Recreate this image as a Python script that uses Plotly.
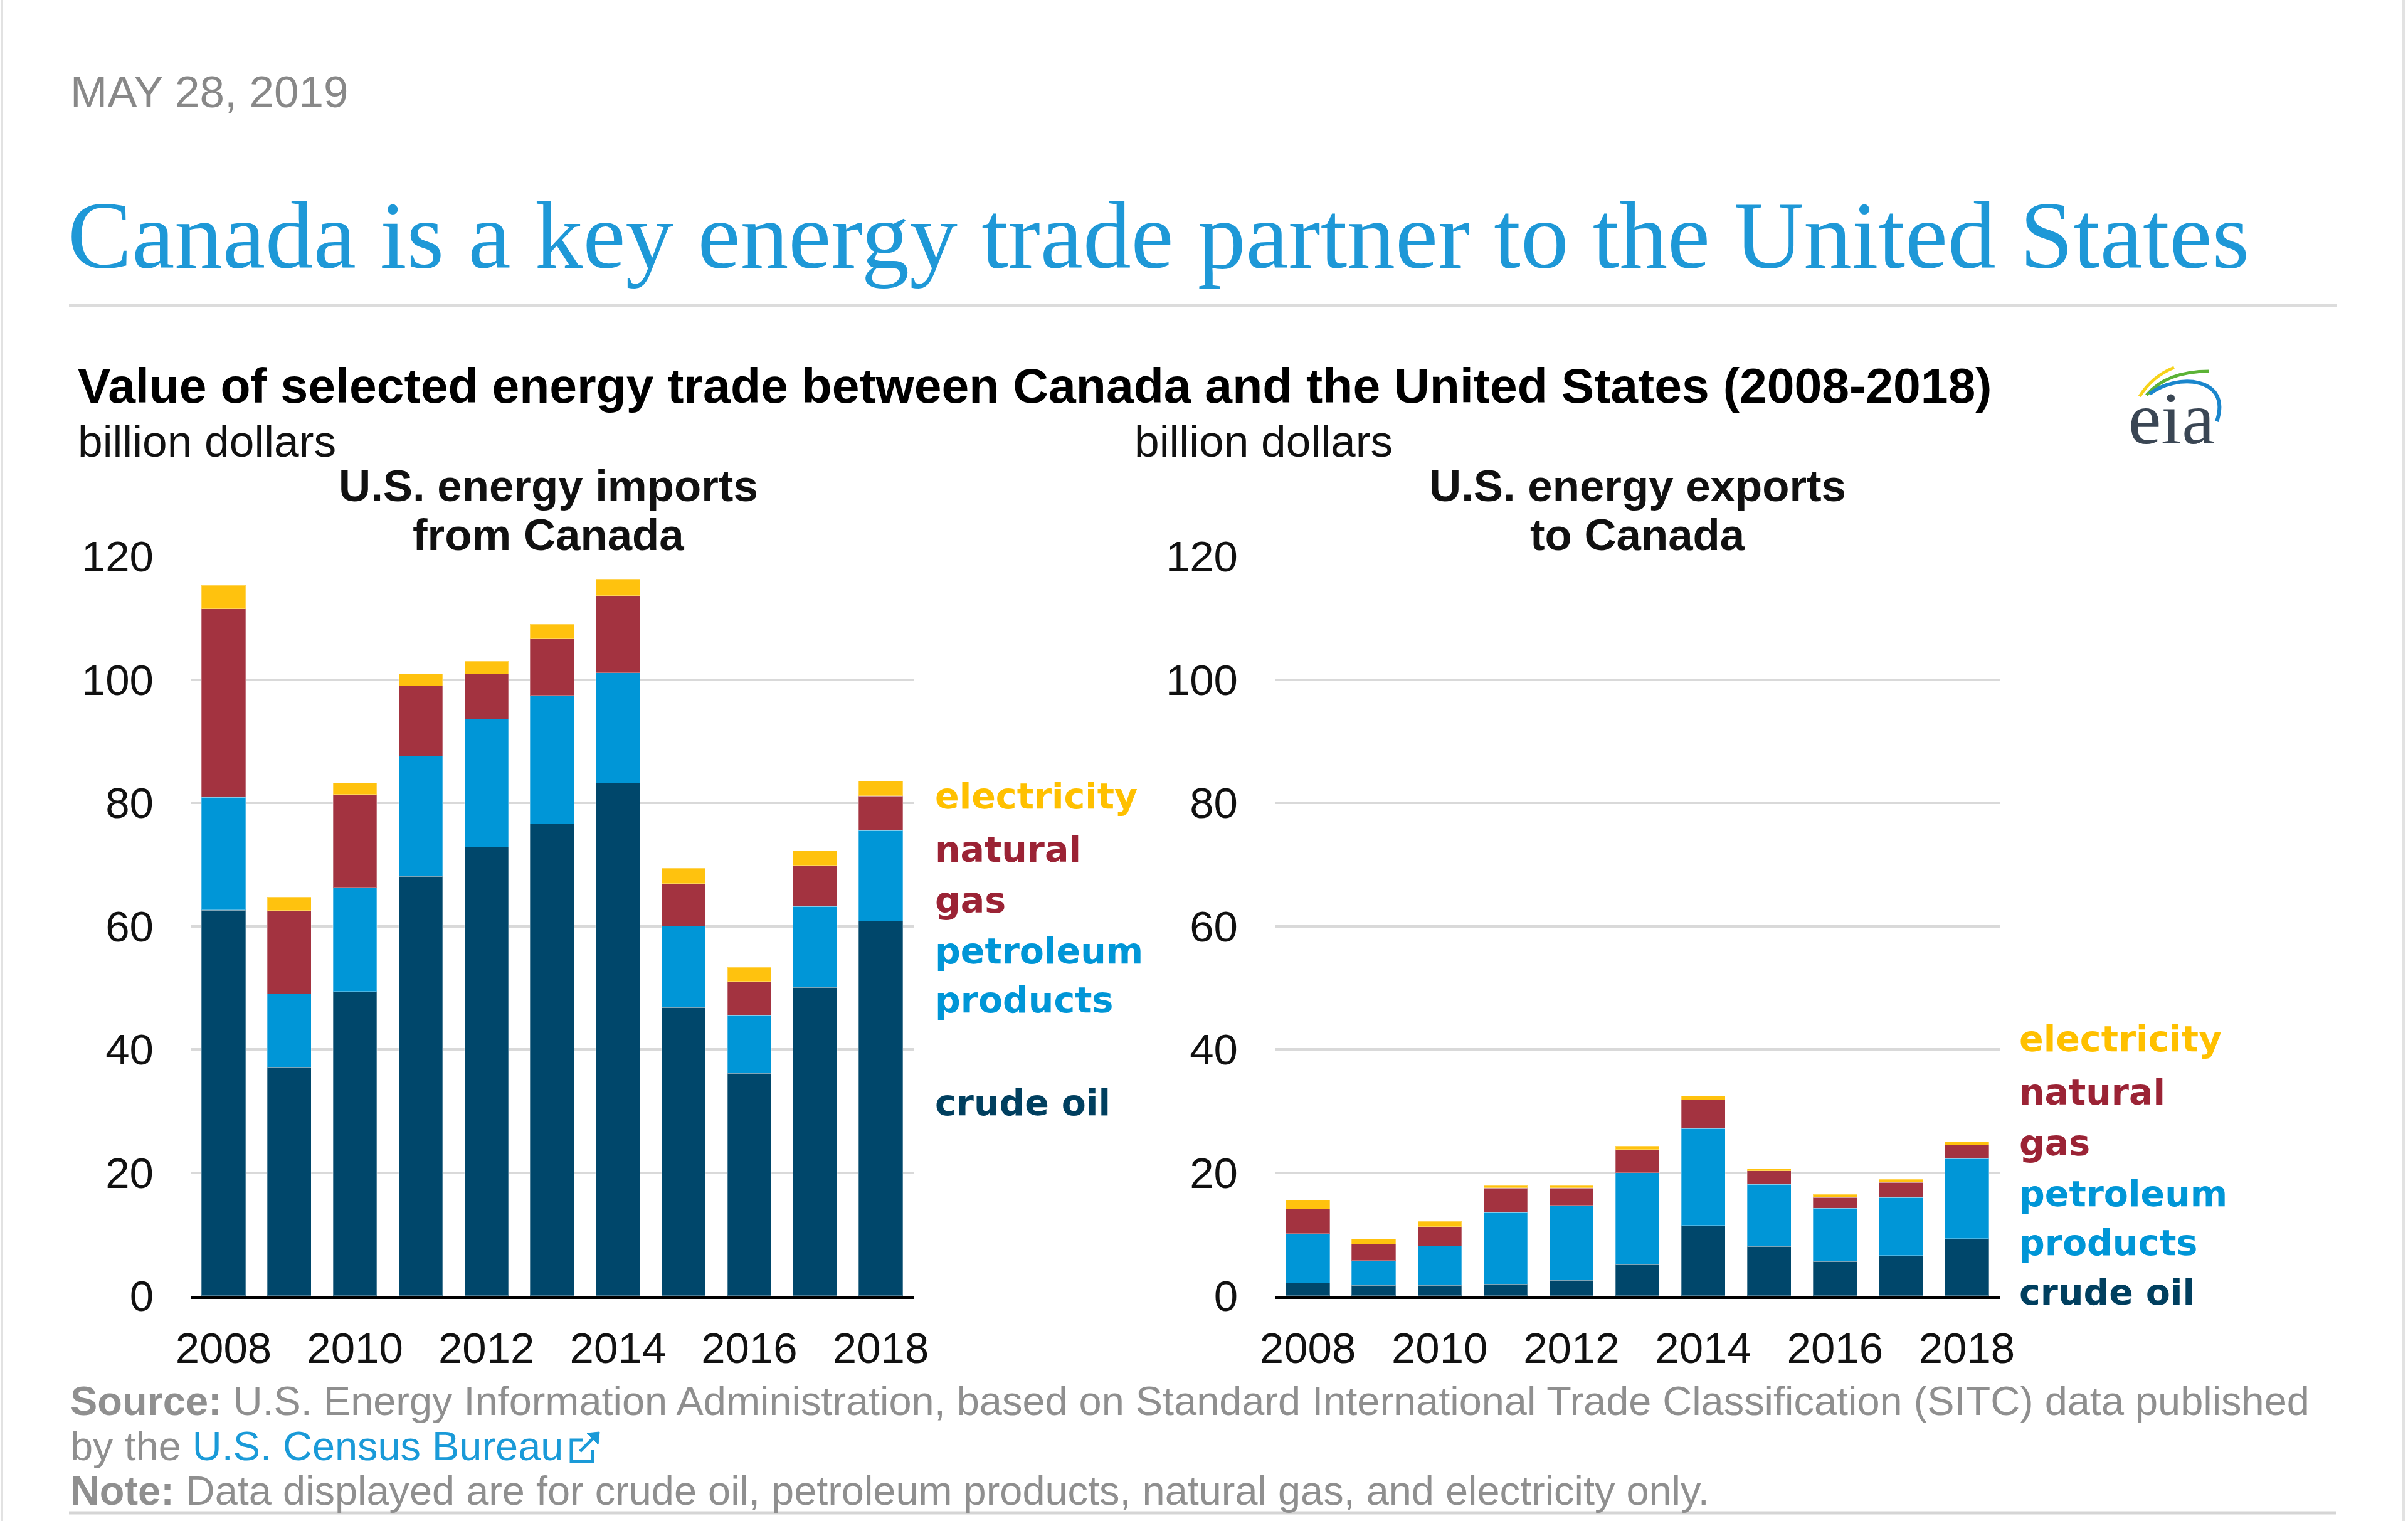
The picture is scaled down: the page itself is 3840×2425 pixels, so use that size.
import plotly.graph_objects as go

W, H = 3840, 2425

years = [2008, 2009, 2010, 2011, 2012, 2013, 2014, 2015, 2016, 2017, 2018]

imp_crude = [62.6, 37.1, 49.4, 68.1, 72.8, 76.6, 83.2, 46.8, 36.1, 50.1, 60.8]
imp_petroleum = [18.3, 11.9, 16.9, 19.5, 20.8, 20.8, 17.9, 13.2, 9.4, 13.1, 14.7]
imp_gas = [30.6, 13.5, 15.0, 11.4, 7.3, 9.3, 12.5, 6.9, 5.5, 6.6, 5.6]
imp_elec = [3.8, 2.2, 2.0, 2.0, 2.1, 2.3, 2.7, 2.5, 2.3, 2.4, 2.5]

exp_crude = [2.1, 1.7, 1.7, 1.9, 2.5, 5.1, 11.4, 8.0, 5.6, 6.5, 9.3]
exp_petroleum = [8.0, 4.0, 6.4, 11.6, 12.2, 14.9, 15.8, 10.1, 8.6, 9.5, 13.0]
exp_gas = [4.0, 2.7, 3.1, 4.0, 2.8, 3.7, 4.6, 2.2, 1.8, 2.4, 2.2]
exp_elec = [1.4, 0.9, 0.9, 0.4, 0.4, 0.6, 0.7, 0.4, 0.5, 0.5, 0.5]

y_ticks = [0, 20, 40, 60, 80, 100, 120]
x_ticks = [2008, 2010, 2012, 2014, 2016, 2018]

series_names = ["crude oil", "petroleum products", "natural gas", "electricity"]
bar_colors = ["#00476b", "#0096d7", "#a33340", "#ffc20e"]
label_colors = {"electricity": "#ffc000", "gas": "#9b2335",
                "pet": "#0096d7", "crude": "#003f5f"}

SANS = "Liberation Sans, Arial, sans-serif"
SERIF = "Liberation Serif, Times New Roman, serif"
LEG = "DejaVu Sans, sans-serif"


def px(x):
    return x / W


def py(y):
    return 1 - y / H


fig = go.Figure()

imports = [imp_crude, imp_petroleum, imp_gas, imp_elec]
exports = [exp_crude, exp_petroleum, exp_gas, exp_elec]
for vals, name, col in zip(imports, series_names, bar_colors):
    fig.add_trace(go.Bar(x=years, y=vals, name=name, marker_color=col,
                         marker_line_width=1.5, marker_line_color="rgba(255,255,255,0.3)",
                         width=0.67, xaxis="x", yaxis="y"))
for vals, name, col in zip(exports, series_names, bar_colors):
    fig.add_trace(go.Bar(x=years, y=vals, name=name, marker_color=col,
                         marker_line_width=1.5, marker_line_color="rgba(255,255,255,0.3)",
                         width=0.67, xaxis="x2", yaxis="y2"))

ydom = [py(2066), py(887)]
axis_font = dict(family=SANS, size=69, color="#111111")

xcommon = dict(range=[2007.5, 2018.5], tickvals=x_ticks, ticktext=[str(v) for v in x_ticks],
               showline=True, linecolor="#000000", linewidth=5, showgrid=False,
               zeroline=False, ticks="", tickfont=axis_font, ticklabelstandoff=19,
               fixedrange=True, automargin=False)
ycommon = dict(range=[0, 120.0001], tickvals=y_ticks, showgrid=True, gridcolor="#d9d9d9",
               gridwidth=4, zeroline=False, showline=False, ticks="", tickfont=axis_font,
               ticklabelstandoff=58, fixedrange=True, automargin=False)

fig.update_layout(
    width=W, height=H, autosize=False,
    margin=dict(l=0, r=0, t=0, b=0, pad=0, autoexpand=False),
    paper_bgcolor="white", plot_bgcolor="white",
    barmode="stack", bargap=0.33, showlegend=False,
    xaxis=dict(domain=[px(304), px(1457)], anchor="y", **xcommon),
    yaxis=dict(domain=ydom, anchor="x", **ycommon),
    xaxis2=dict(domain=[px(2033), px(3189)], anchor="y2", **xcommon),
    yaxis2=dict(domain=ydom, anchor="x2", **ycommon),
)

ann = []


def text(x, y, t, size, color, family=SANS, xanchor="left"):
    ann.append(dict(x=px(x), y=py(y), xref="paper", yref="paper", text=t,
                    showarrow=False, xanchor=xanchor, yanchor="middle",
                    font=dict(family=family, size=size, color=color)))


text(110, 147, "MAY 28, 2019", 71, "#888888")
text(106, 375, "Canada is a key energy trade partner to the United States", 153.3, "#1e98d7", SERIF)
text(122, 615, "<b>Value of selected energy trade between Canada and the United States (2008-2018)</b>", 78.7, "#000000")
text(122, 703, "billion dollars", 71.3, "#111111")
text(1807, 703, "billion dollars", 71.3, "#111111")
text(874, 774, "<b>U.S. energy imports</b>", 70.8, "#111111", xanchor="center")
text(874, 852, "<b>from Canada</b>", 70.8, "#111111", xanchor="center")
text(2611, 774, "<b>U.S. energy exports</b>", 70.8, "#111111", xanchor="center")
text(2611, 852, "<b>to Canada</b>", 70.8, "#111111", xanchor="center")

# series labels (left)
for t, y, c in [("electricity", 1269, "electricity"), ("natural", 1354, "gas"),
                ("gas", 1435, "gas"), ("petroleum", 1516, "pet"),
                ("products", 1594, "pet"), ("crude oil", 1758, "crude")]:
    text(1489, y, "<b>" + t + "</b>", 57, label_colors[c], LEG)
# series labels (right)
for t, y, c in [("electricity", 1656, "electricity"), ("natural", 1741, "gas"),
                ("gas", 1822, "gas"), ("petroleum", 1903, "pet"),
                ("products", 1981, "pet"), ("crude oil", 2060, "crude")]:
    text(3218, y, "<b>" + t + "</b>", 57, label_colors[c], LEG)

# eia logo text
text(3463, 668, "eia", 118, "#3a4654", SERIF, xanchor="center")

# source / note
GREY = "#8f8f8f"
text(110, 2233, "<b>Source:</b> U.S. Energy Information Administration, based on Standard International Trade Classification (SITC) data published", 64.9, GREY)
text(110, 2305, "by the <span style='color:#1a9ad8'>U.S. Census Bureau</span>", 64.9, GREY)
text(110, 2376, "<b>Note:</b> Data displayed are for crude oil, petroleum products, natural gas, and electricity only.", 64.9, GREY)

fig.update_layout(annotations=ann)

shapes = []


def line(x0, y0, x1, y1, color, width):
    shapes.append(dict(type="line", xref="paper", yref="paper",
                       x0=px(x0), y0=py(y0), x1=px(x1), y1=py(y1),
                       line=dict(color=color, width=width)))


def path(points_str, color, width):
    shapes.append(dict(type="path", xref="paper", yref="paper", path=points_str,
                       line=dict(color=color, width=width)))


def P(x, y):
    return f"{px(x):.6f},{py(y):.6f}"


line(110, 487, 3727, 487, "#dcdcdc", 5)
line(110, 2412, 3725, 2412, "#d5d5d5", 5)
line(3, 0, 3, H, "#e2e2e2", 4)
line(3833, 0, 3833, H, "#e2e2e2", 4)

# eia arcs
path("M " + P(3412, 632) + " Q " + P(3432, 600) + " " + P(3467, 586), "#f7d31a", 5)
path("M " + P(3423, 630) + " Q " + P(3455, 592) + " " + P(3523, 592), "#5cb336", 5)
path("M " + P(3428, 628) + " C " + P(3470, 595) + " " + P(3560, 600) + " " + P(3535, 672), "#1a86cc", 6)

# external link icon
ix = 8
path("M " + P(921 + ix, 2296) + " L " + P(903 + ix, 2296) + " L " + P(903 + ix, 2330) + " L " + P(937 + ix, 2330) + " L " + P(937 + ix, 2312), "#1a9ad8", 5)
line(917 + ix, 2314, 944 + ix, 2287, "#1a9ad8", 5)
shapes.append(dict(type="path", xref="paper", yref="paper",
                   path="M " + P(948 + ix, 2283) + " L " + P(928 + ix, 2285) + " L " + P(946 + ix, 2303) + " Z",
                   fillcolor="#1a9ad8", line=dict(color="#1a9ad8", width=1)))

fig.update_layout(shapes=shapes)

fig.write_html("out.html", config={"responsive": False, "displayModeBar": False},
               post_script="document.body.style.margin='0';document.body.style.padding='0';document.body.style.overflow='hidden';")
